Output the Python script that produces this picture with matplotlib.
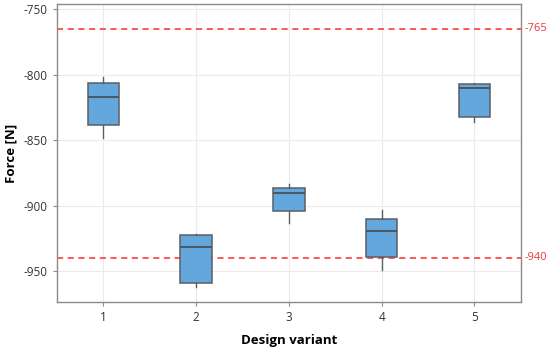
import matplotlib.pyplot as plt

plt.rcParams['font.family'] = ['Open Sans', 'DejaVu Sans']
plt.rcParams['axes.unicode_minus'] = False

variants = [1, 2, 3, 4, 5]
whislo = [-848.2, -962.5, -913.6, -949.2, -836.0]
q1 = [-838.3, -959.2, -904.2, -939.6, -832.7]
med = [-817.2, -931.7, -890.5, -919.2, -810.1]
q3 = [-806.0, -922.5, -886.6, -910.3, -807.0]
whishi = [-801.4, -921.5, -883.6, -903.7, -806.0]
limits = [-765, -940]

stats = []
for i in range(len(variants)):
    stats.append({'whislo': whislo[i], 'q1': q1[i], 'med': med[i],
                  'q3': q3[i], 'whishi': whishi[i], 'fliers': []})

fig = plt.figure(figsize=(5.5, 3.48), dpi=100)
ax = fig.add_axes([0.1036, 0.132, 0.8434, 0.8565])

ax.grid(True, color='#ebebeb', linewidth=0.8)
ax.set_axisbelow(True)

for lim in limits:
    ax.axhline(lim, color='#ff2a2a', linestyle=(0, (4, 3)), linewidth=1.1, zorder=1)
    ax.text(1.008, lim, str(lim), transform=ax.get_yaxis_transform(),
            color='#e03a3a', fontsize=8, va='center', ha='left')

ax.bxp(stats, positions=variants, widths=0.34, patch_artist=True, showcaps=False,
       boxprops=dict(facecolor='#63a7dc', edgecolor='#5a5f66', linewidth=1.1),
       medianprops=dict(color='#4a5058', linewidth=1.3),
       whiskerprops=dict(color='#5a5f66', linewidth=1.0), zorder=3)

ax.set_xlim(0.5, 5.5)
ax.set_ylim(-973.7, -746)
ax.set_yticks([-750, -800, -850, -900, -950])
ax.set_xticks(variants)
ax.set_xticklabels([str(v) for v in variants])

for s in ax.spines.values():
    s.set_color('#8a8a8a')
    s.set_linewidth(1.0)
ax.tick_params(colors='#8a8a8a', labelcolor='#333333', labelsize=8.5, length=3)

ax.set_xlabel('Design variant', fontsize=9.5, fontweight='bold', labelpad=7)
ax.set_ylabel('Force [N]', fontsize=9.5, fontweight='bold', labelpad=5)

fig.savefig('out.png', dpi=100)
